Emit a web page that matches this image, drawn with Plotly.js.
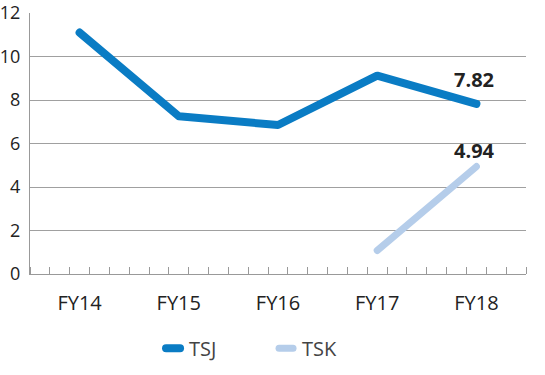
<!DOCTYPE html>
<html>
<head>
<meta charset="utf-8">
<script src="https://cdn.plot.ly/plotly-3.0.1.min.js"></script>
<style>
body { margin: 0; background: #fff; }
#chart { width: 545px; height: 375px; }
.js-line, .legendlines path { stroke-linecap: round; stroke-linejoin: round; }
</style>
</head>
<body>
<div id="chart"></div>
<script>
const categories = ["FY14", "FY15", "FY16", "FY17", "FY18"];
const tsj = [11.1, 7.25, 6.85, 9.12, 7.82];
const tsk = [null, null, null, 1.08, 4.94];
const seriesNames = ["TSJ", "TSK"];
const endLabels = ["7.82", "4.94"];

const xIdx = categories.map((_, i) => i);
const font = "Open Sans, Noto Sans, sans-serif";

const traces = [
  { x: xIdx, y: tsj, name: seriesNames[0], type: "scatter", mode: "lines",
    line: { color: "#0a7cc4", width: 8 } },
  { x: xIdx, y: tsk, name: seriesNames[1], type: "scatter", mode: "lines",
    line: { color: "#b5cdea", width: 7 } }
];

const last = categories.length - 1;
const annotations = [
  { x: last, y: tsj[last], text: endLabels[0], showarrow: false, yshift: 24, xshift: -2,
    font: { family: font, size: 20, color: "#222", weight: "bold" } },
  { x: last, y: tsk[last], text: endLabels[1], showarrow: false, yshift: 16, xshift: -2,
    font: { family: font, size: 20, color: "#222", weight: "bold" } }
];

const layout = {
  width: 545, height: 375,
  margin: { l: 30, r: 19, t: 13, b: 101, autoexpand: false },
  paper_bgcolor: "#fff", plot_bgcolor: "#fff",
  showlegend: true,
  legend: { orientation: "h", x: 0.24, xanchor: "left", y: -0.21, yanchor: "top",
    font: { family: font, size: 20, color: "#444" }, entrywidth: 68, itemwidth: 30 },
  xaxis: {
    range: [-0.5, 4.5], tickvals: xIdx, ticktext: categories,
    showgrid: false, zeroline: false, showline: true, linecolor: "#999", linewidth: 1,
    ticks: "", ticklabelstandoff: 11,
    tickfont: { family: font, size: 20, color: "#222" },
    minor: { tick0: -0.5, dtick: 0.2, ticks: "inside", ticklen: 7, tickcolor: "#999", tickwidth: 1, showgrid: false }
  },
  yaxis: {
    range: [0, 12], dtick: 2, showgrid: true, gridcolor: "#a0a0a0", gridwidth: 1,
    zeroline: false, showline: true, linecolor: "#999", linewidth: 1,
    ticks: "", ticklabelstandoff: 5, ticklabeloverflow: "allow",
    tickfont: { family: font, size: 18, color: "#222" }
  },
  annotations: annotations
};

Plotly.newPlot("chart", traces, layout, { displayModeBar: false, staticPlot: true }).then(gd => {
  gd.querySelectorAll(".legendlines path").forEach(p => p.setAttribute("d", "M17,0h14"));
});
</script>
</body>
</html>
